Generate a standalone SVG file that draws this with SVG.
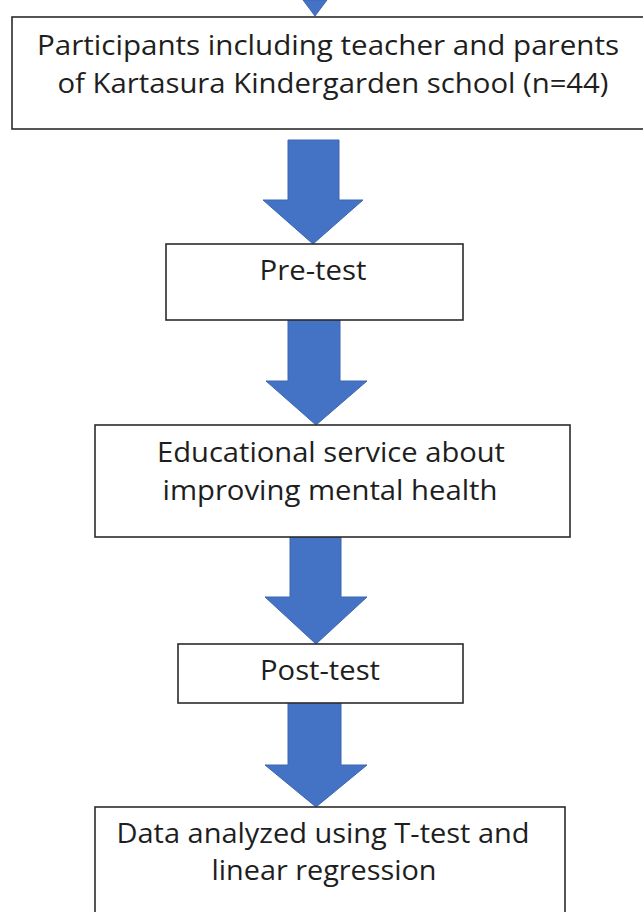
<svg xmlns="http://www.w3.org/2000/svg" width="643" height="912" viewBox="0 0 643 912">
<style>
.box{fill:#fff;stroke:#2b2b2b;stroke-width:1.6}
.t{font-family:"Open Sans","Liberation Sans",sans-serif;font-size:27px;fill:#1e1e1e;text-anchor:middle}
.arr{fill:#4472C4;stroke:#3d67b3;stroke-width:1}
</style>
<rect width="643" height="912" fill="#fff"/>
<g id="connectors">
<polygon class="arr" points="303,0 327,0 315,16"/>
<polygon class="arr" points="288,140 339,140 339,200 363,200 313,244 263,200 288,200"/>
<polygon class="arr" points="288,320 340,320 340,381 367,381 316,425 266,381 288,381"/>
<polygon class="arr" points="290,537 341,537 341,597 367,597 316,644 265,597 290,597"/>
<polygon class="arr" points="288,703 341,703 341,765 367,765 316,807 265,765 288,765"/>
</g>
<g id="participants">
<rect class="box" x="12" y="17" width="650" height="112"/>
<text class="t" x="328" y="55" textLength="582" lengthAdjust="spacingAndGlyphs">Participants including teacher and parents</text>
<text class="t" x="333" y="93" textLength="551" lengthAdjust="spacingAndGlyphs">of Kartasura Kindergarden school (n=44)</text>
</g>
<g id="pretest">
<rect class="box" x="166" y="244" width="297" height="76"/>
<text class="t" x="313" y="280" textLength="107" lengthAdjust="spacingAndGlyphs">Pre-test</text>
</g>
<g id="education">
<rect class="box" x="95" y="425" width="475" height="112"/>
<text class="t" x="331" y="462" textLength="348" lengthAdjust="spacingAndGlyphs">Educational service about</text>
<text class="t" x="330" y="500" textLength="335" lengthAdjust="spacingAndGlyphs">improving mental health</text>
</g>
<g id="posttest">
<rect class="box" x="178" y="644" width="285" height="59"/>
<text class="t" x="320" y="680" textLength="120" lengthAdjust="spacingAndGlyphs">Post-test</text>
</g>
<g id="analysis">
<rect class="box" x="95" y="807" width="470" height="120"/>
<text class="t" x="323" y="843" textLength="413" lengthAdjust="spacingAndGlyphs">Data analyzed using T-test and</text>
<text class="t" x="324" y="880" textLength="225" lengthAdjust="spacingAndGlyphs">linear regression</text>
</g>
</svg>
